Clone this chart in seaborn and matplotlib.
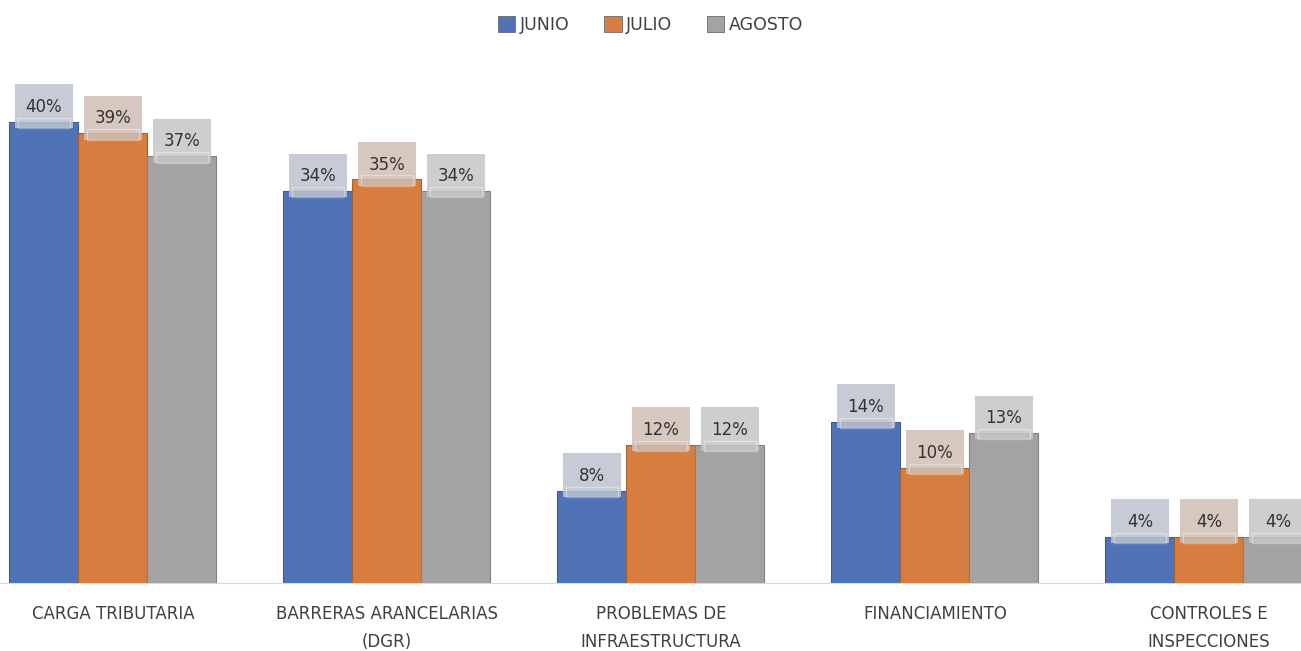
import pandas as pd
import matplotlib.pyplot as plt
import seaborn as sns
from matplotlib.patches import Rectangle

# Datos del grafico
categorias = ['CARGA TRIBUTARIA', 'BARRERAS ARANCELARIAS\n(DGR)', 'PROBLEMAS DE\nINFRAESTRUCTURA',
              'FINANCIAMIENTO', 'CONTROLES E\nINSPECCIONES']
meses = ['JUNIO', 'JULIO', 'AGOSTO']
junio = [40, 34, 8, 14, 4]
julio = [39, 35, 12, 10, 4]
agosto = [37, 34, 12, 13, 4]

colores = ['#5073B8', '#D77D3F', '#A3A3A3']
colores_bordes = ['#3e5c96', '#a8602f', '#808080']
colores_caja = ['#BCC2CF', '#CFBEB4', '#C6C6C6']

sns.set_style('white')
plt.rcParams['font.family'] = ['DejaVu Sans']

df = pd.DataFrame({
    'Categoria': categorias * 3,
    'Mes': [m for m in meses for _ in categorias],
    'Valor': junio + julio + agosto,
})

fig = plt.figure(figsize=(13.01, 6.51), dpi=100)
ax = fig.add_axes([0, 0.1045, 1, 0.788])

sns.barplot(data=df, x='Categoria', y='Valor', hue='Mes', palette=colores, saturation=1,
            width=0.755, gap=0, linewidth=0.8, ax=ax)

ax.set_xlim(-0.412, 4.336)
ax.set_ylim(0, 44.5)

# etiquetas de datos con caja
for cont, caja, borde in zip(ax.containers, colores_caja, colores_bordes):
    for bar in cont:
        bar.set_edgecolor(borde)
        h = bar.get_height()
        cx = bar.get_x() + bar.get_width() / 2
        w = 0.212
        ax.add_patch(Rectangle((cx - w / 2, h - 0.55), w, 3.8, facecolor=caja,
                               edgecolor='none', alpha=0.85, zorder=3))
        ax.add_patch(Rectangle((cx - w / 2 + 0.01, h - 0.55), w - 0.02, 0.9,
                               facecolor='none', edgecolor='white', alpha=0.35,
                               linewidth=1, zorder=3.5))
        ax.text(cx, h + 1.3, f'{h:.0f}%', ha='center', va='center',
                fontsize=12, color='#333333', zorder=4)

ax.set_xlabel('')
ax.set_ylabel('')
ax.set_yticks([])
ax.tick_params(axis='x', length=0, pad=16, labelsize=12, labelcolor='#404040')
for lab in ax.get_xticklabels():
    lab.set_linespacing(1.7)
for s in ['top', 'left', 'right']:
    ax.spines[s].set_visible(False)
ax.spines['bottom'].set_color('#d9d9d9')

ax.legend_.remove()
handles = [Rectangle((0, 0), 1, 1, facecolor=c, edgecolor='#6a6a6a', linewidth=0.6) for c in colores]
fig.legend(handles, meses, loc='center', bbox_to_anchor=(0.5, 1 - 25 / 651), ncol=3,
           frameon=False, handlelength=1.0, handleheight=1.0, handletextpad=0.25,
           columnspacing=2.0, fontsize=12.5, labelcolor='#404040')

plt.savefig('out.png', dpi=100)
